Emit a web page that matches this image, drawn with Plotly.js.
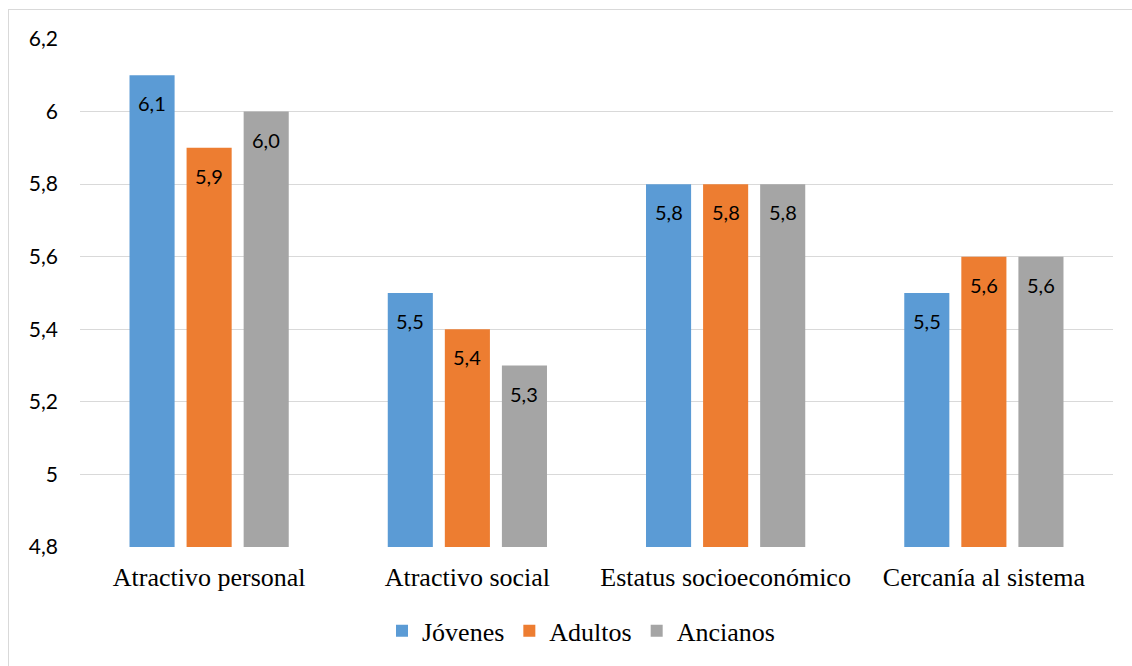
<!DOCTYPE html>
<html>
<head>
<meta charset="utf-8">
<script src="https://cdn.plot.ly/plotly-3.0.1.min.js"></script>
<style>
  html, body { margin: 0; padding: 0; background: #fff; overflow: hidden; }
  #frame { position: absolute; left: 8px; top: 9px; width: 1140px; height: 680px; border: 1px solid #D9D9D9; }
  #chart { position: absolute; left: 0; top: 0; width: 1132px; height: 666px; }
</style>
</head>
<body>
<div id="frame"></div>
<div id="chart"></div>
<script>
const categories = ["Atractivo personal", "Atractivo social", "Estatus socioeconómico", "Cercanía al sistema"];
const seriesNames = ["Jóvenes", "Adultos", "Ancianos"];
const jovenes = [6.1, 5.5, 5.8, 5.5];
const adultos = [5.9, 5.4, 5.8, 5.6];
const ancianos = [6.0, 5.3, 5.8, 5.6];
const yTicks = [4.8, 5, 5.2, 5.4, 5.6, 5.8, 6, 6.2];

const colors = ["#5B9BD5", "#ED7D31", "#A5A5A5"];
const values = [jovenes, adultos, ancianos];
const serif = "Liberation Serif";
const sans = "Lato";
const fmt = v => v.toFixed(1).replace('.', ',');

const traces = values.map((v, i) => ({
  type: "bar",
  name: seriesNames[i],
  x: categories,
  y: v,
  marker: { color: colors[i] },
  hoverinfo: "none"
}));

// data labels placed inside the top of each bar
const slotPx = 57;
const annotations = [];
values.forEach((v, i) => {
  v.forEach((val, j) => {
    annotations.push({
      x: categories[j], y: val, xref: "x", yref: "y",
      text: fmt(val), showarrow: false,
      xshift: (i - 1) * slotPx, yshift: -28,
      font: { family: sans, size: 20, color: "#000" }
    });
  });
});

const layout = {
  width: 1132,
  height: 666,
  margin: { l: 80, r: 19, t: 39, b: 119 },
  paper_bgcolor: "rgba(0,0,0,0)",
  plot_bgcolor: "rgba(0,0,0,0)",
  font: { family: serif, size: 26, color: "#000" },
  separators: ",.",
  barmode: "group",
  bargap: 0.337,
  bargroupgap: 0.21,
  showlegend: true,
  annotations: annotations,
  legend: {
    orientation: "h",
    x: 0.485, xanchor: "center",
    y: -0.119, yanchor: "top",
    font: { family: serif, size: 26, color: "#000" },
    itemwidth: 30,
    traceorder: "normal"
  },
  xaxis: {
    type: "category",
    showgrid: false,
    showline: false,
    ticks: "",
    tickfont: { family: serif, size: 26, color: "#000" },
    ticklabelstandoff: 12
  },
  yaxis: {
    range: [4.8, 6.2],
    tickvals: yTicks,
    ticktext: yTicks.map(v => String(v).replace('.', ',')),
    showgrid: true,
    gridcolor: "#D9D9D9",
    gridwidth: 1,
    zeroline: false,
    showline: false,
    ticks: "",
    ticklabelstandoff: 21,
    tickfont: { family: sans, size: 21, color: "#000" }
  }
};

Plotly.newPlot("chart", traces, layout, { displayModeBar: false, staticPlot: true });
</script>
</body>
</html>
